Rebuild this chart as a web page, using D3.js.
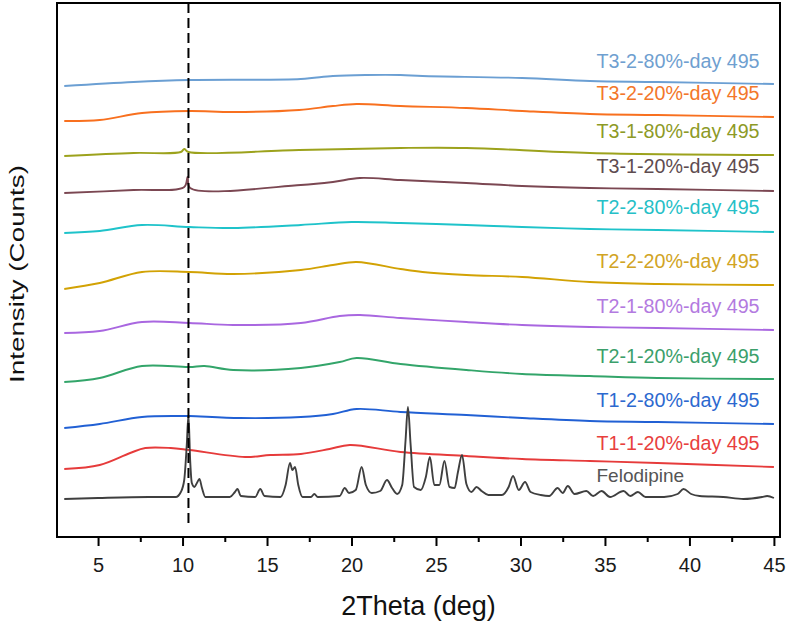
<!DOCTYPE html>
<html>
<head>
<meta charset="utf-8">
<script src="https://cdn.jsdelivr.net/npm/d3@7"></script>
<style>
  body { margin: 0; background: #fff; }
  svg text { font-family: Arial, "Liberation Sans", sans-serif; }
</style>
</head>
<body>
<svg id="chart" width="789" height="622"></svg>
<script>
(function(){
    // stacked XRD patterns, intensity in arbitrary (offset) units
    var seriesNames = [
        "T3-2-80%-day 495", "T3-2-20%-day 495", "T3-1-80%-day 495", "T3-1-20%-day 495",
        "T2-2-80%-day 495", "T2-2-20%-day 495", "T2-1-80%-day 495", "T2-1-20%-day 495",
        "T1-2-80%-day 495", "T1-1-20%-day 495", "Felodipine"
    ];

    var t3_2_80 = [[3,451],[7.1,455],[10.4,457],[17,458],[18.9,461],[20.9,462],[22.9,462],[24.2,461],[30.1,459],[34.1,456],[38.1,455],[45,453]];
    var t3_2_20 = [[3,416],[5.1,417],[7.6,424],[10.4,426],[13,425],[16.9,427],[18.9,431],[20.3,433],[22.9,431],[26.8,429],[30.1,426],[34.1,423],[38.1,422],[45,420]];
    var t3_1_80 = [[3,381],[7.1,384],[9.9,385],[10.1,388],[10.35,385],[16.9,387],[22.9,389],[26.8,389],[34.1,384],[45,382]];
    var t3_1_20 = [[3,344],[7.1,347],[10.1,350],[10.3,360],[10.45,349],[17,352],[18.9,355],[20.5,359],[22.9,357],[26.8,354],[30.1,351],[34.1,349],[38.1,348],[45,346]];
    var t2_2_80 = [[3,304],[5.1,306],[7.6,312],[10.4,310],[13,309],[17,312],[20,315],[22.9,314],[26.8,312],[30.1,310],[34.1,308],[38.1,307],[45,305]];
    var t2_2_20 = [[3,248],[5.1,254],[7.6,265],[10.4,265],[13,263],[17,267],[18.9,272],[20.3,275],[22.9,268],[24.2,265],[26.8,262],[30.1,260],[34.1,255],[38.1,253],[45,252]];
    var t2_1_80 = [[3,204],[5.1,206],[7.6,215],[10.4,214],[13,212],[17,214],[19.3,221],[20.5,222],[22.9,219],[26.8,215],[30.1,212],[34.1,210],[38.1,209],[45,207]];
    var t2_1_20 = [[3,155],[5.1,159],[7.6,171],[10.4,170],[11.3,171],[13,167],[17,169],[19.3,175],[20.3,179],[22.9,173],[26.8,167],[30.1,163],[34.1,161],[38.1,159],[45,158]];
    var t1_2_80 = [[3,109],[5.1,113],[7.6,120],[9.8,121],[10.4,121],[13.4,119],[17,120],[18.9,123],[20.3,128],[22.9,125],[26.8,122],[30.1,119],[34.1,116],[38.1,115],[45,113]];
    var t1_1_20 = [[3,68],[5.1,72],[6.9,84],[7.8,89],[9.3,89],[10.4,87],[13.7,80],[15.2,82],[17,83],[18.7,88],[19.9,92],[22.9,85],[26.8,81],[30.1,78],[34.1,76],[38.1,74],[45,70]];
    var felodipine = [
        [3,38],[5,39],[8,40],[9.6,40],[9.9,45],[10.1,57],[10.25,92],[10.35,122],[10.45,77],[10.55,54],
        [10.7,50],[10.85,54],[11.0,58],[11.15,49],[11.35,40],[12.8,40],[13.1,45],[13.25,48],[13.45,41],
        [14.3,40],[14.6,48],[14.85,41],[15.8,40],[16.1,52],[16.36,74],[16.5,67],[16.66,70],[16.85,52],
        [17.1,40],[17.6,40],[17.8,43],[18.0,40],[19.3,41],[19.6,49],[19.85,44],[20.25,47],[20.6,70],
        [20.85,52],[21.2,44],[21.7,46],[22.1,57],[22.4,49],[22.7,43],[23.0,52],[23.2,97],[23.34,130],
        [23.5,92],[23.7,50],[24.1,47],[24.4,60],[24.64,80],[24.9,52],[25.2,52],[25.5,76],[25.8,50],
        [26.1,49],[26.3,65],[26.54,82],[26.8,53],[27.1,45],[27.4,50],[27.7,46],[28.1,42],[28.9,42],
        [29.3,50],[29.56,61],[29.9,47],[30.27,55],[30.6,45],[31.2,42],[31.7,41],[32.2,49],[32.5,44],
        [32.8,51],[33.2,43],[33.9,46],[34.3,41],[34.8,46],[35.3,40],[36.1,46],[36.5,41],[36.95,45],
        [37.4,40],[38.5,40],[39.3,43],[39.65,48],[40.1,43],[40.6,41],[42,40],[43.2,38],[44.3,40],
        [44.6,41],[45,39]
    ];

    var seriesData = [t3_2_80, t3_2_20, t3_1_80, t3_1_20, t2_2_80, t2_2_20, t2_1_80, t2_1_20, t1_2_80, t1_1_20, felodipine];
    var lineColors = ["#6b9fd3", "#f8701f", "#9ca21c", "#7b4752", "#1fc3ca", "#d2a204", "#a967e0", "#33a56a", "#2160d4", "#e63b3b", "#3f3f3f"];
    var labelColors = ["#6f9fd0", "#f3772a", "#8d9a26", "#5e4c50", "#26bfc7", "#d1a424", "#b37ae0", "#3b9f6b", "#2c69cf", "#e8403d", "#555555"];
    var labelY = [469, 437, 399, 364, 323, 269, 224, 174, 130, 87, 55];
    var labelX = 34.5;

    var xTicks = [5, 10, 15, 20, 25, 30, 35, 40, 45];
    var xMinorTicks = [7.5, 12.5, 17.5, 22.5, 27.5, 32.5, 37.5, 42.5];
    var markerTheta = 10.35;

    var svg = d3.select("#chart"),
        left = 57, right = 780, top = 3, bottom = 537;

    var x = d3.scaleLinear().domain([2.57, 45.36]).range([left, right]);
    var y = d3.scaleLinear().domain([0, 534]).range([bottom, top]);

    // broad amorphous humps are smooth, the crystalline pattern keeps sharp peaks
    var smoothLine = d3.line()
        .x(function(d){ return x(d[0]); })
        .y(function(d){ return y(d[1]); })
        .curve(d3.curveCatmullRom.alpha(0.5));
    var peakLine = d3.line()
        .x(function(d){ return x(d[0]); })
        .y(function(d){ return y(d[1]); })
        .curve(d3.curveMonotoneX);

    svg.append("g").selectAll("path")
        .data(seriesData)
        .enter()
        .append("path")
        .attr("d", function(d,i){ return i == 10 ? peakLine(d) : smoothLine(d); })
        .attr("fill", "none")
        .attr("stroke", function(d,i){ return lineColors[i]; })
        .attr("stroke-width", 1.9)
        .attr("stroke-linejoin", "round");

    // dashed reference line at main felodipine reflection
    svg.append("line")
        .attr("x1", x(markerTheta)).attr("x2", x(markerTheta))
        .attr("y1", y(534)).attr("y2", y(10))
        .attr("stroke", "#000")
        .attr("stroke-width", 2)
        .attr("stroke-dasharray", "10,5");

    svg.append("g").selectAll("text")
        .data(seriesNames)
        .enter()
        .append("text")
        .attr("x", x(labelX))
        .attr("y", function(d,i){ return y(labelY[i]); })
        .attr("fill", function(d,i){ return labelColors[i]; })
        .style("font-size", function(d,i){ return i == 10 ? "19px" : "19.7px"; })
        .text(function(d){ return d; });

    // frame
    svg.append("rect")
        .attr("x", left).attr("y", top)
        .attr("width", right - left).attr("height", bottom - top)
        .attr("fill", "none")
        .attr("stroke", "#000")
        .attr("stroke-width", 2);

    var xAxis = svg.append("g")
        .attr("transform", "translate(0," + bottom + ")")
        .call(d3.axisBottom(x).tickValues(xTicks).tickSize(9).tickPadding(12).tickFormat(d3.format("d")));
    xAxis.select(".domain").remove();
    xAxis.selectAll("line").attr("stroke-width", 2);
    xAxis.selectAll("text").style("font-size", "20px").attr("fill", "#1a1a1a").style("font-family", "Arial, 'Liberation Sans', sans-serif");

    var xMinor = svg.append("g")
        .attr("transform", "translate(0," + bottom + ")")
        .call(d3.axisBottom(x).tickValues(xMinorTicks).tickSize(5).tickFormat(""));
    xMinor.select(".domain").remove();
    xMinor.selectAll("line").attr("stroke-width", 2);

    svg.append("text")
        .attr("x", (left + right) / 2)
        .attr("y", 615)
        .attr("text-anchor", "middle")
        .attr("fill", "#111")
        .style("font-size", "27px")
        .text("2Theta (deg)");

    svg.append("text")
        .attr("transform", "translate(24," + 274 + ") rotate(-90)")
        .attr("text-anchor", "middle")
        .attr("fill", "#111")
        .attr("textLength", 218)
        .attr("lengthAdjust", "spacingAndGlyphs")
        .style("font-size", "21px")
        .text("Intensity (Counts)");
})();
</script>
</body>
</html>
